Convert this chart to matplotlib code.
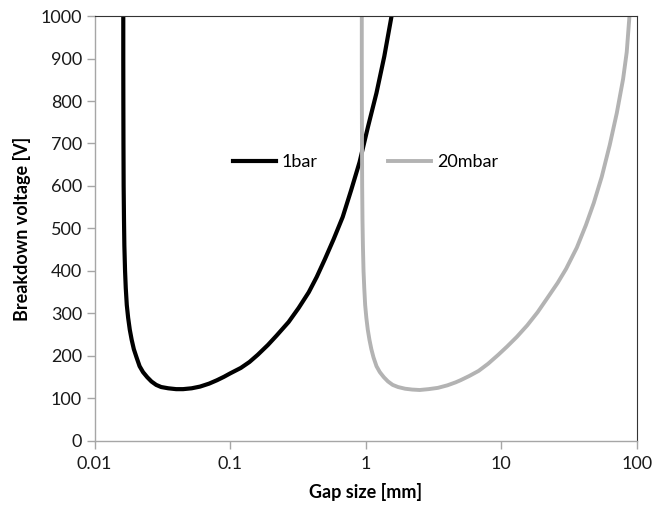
import matplotlib
matplotlib.use("Agg")
import matplotlib.pyplot as plt
from matplotlib.ticker import FixedLocator, FixedFormatter, NullLocator

# values
gap_1bar = [0.0163, 0.0163, 0.01632, 0.01635, 0.0164, 0.0165, 0.0166, 0.0168, 0.0170, 0.0173,
            0.0177, 0.0182, 0.0188, 0.0195, 0.0204, 0.0215, 0.0228, 0.0245, 0.0263, 0.0285,
            0.031, 0.035, 0.040, 0.045, 0.052, 0.060, 0.070, 0.080, 0.090, 0.10,
            0.12, 0.139, 0.16, 0.19, 0.22, 0.27, 0.32, 0.38, 0.435, 0.50,
            0.58, 0.676, 0.78, 0.90, 1.04, 1.2, 1.37, 1.55]
volt_1bar = [1000, 900, 800, 700, 600, 520, 460, 400, 360, 320,
             290, 262, 238, 216, 197, 176, 162, 150, 140, 132,
             127, 124, 122, 122, 124, 128, 135, 143, 151, 159,
             172, 186, 203, 226, 248, 280, 313, 350, 386, 428,
             475, 527, 590, 656, 740, 819, 905, 1000]

gap_20mbar = [0.935, 0.935, 0.936, 0.938, 0.941, 0.946, 0.953, 0.963, 0.975, 0.99,
              1.01, 1.035, 1.065, 1.10, 1.14, 1.2, 1.27, 1.36, 1.46, 1.58,
              1.73, 1.95, 2.2, 2.5, 2.9, 3.4, 4.0, 4.6, 5.0, 5.8,
              6.8, 8.0, 9.5, 11, 13, 15.5, 18.5, 22, 26, 30,
              36, 42, 48, 55, 63, 71, 79, 84, 88]
volt_20mbar = [1000, 900, 800, 700, 600, 520, 460, 400, 360, 320,
               290, 262, 238, 216, 197, 176, 162, 150, 140, 132,
               127, 123, 121, 120, 122, 125, 131, 138, 143, 153,
               165, 182, 203, 222, 245, 272, 303, 338, 372, 405,
               455, 508, 560, 622, 697, 772, 852, 915, 1000]

x_ticks = [0.01, 0.1, 1, 10, 100]
x_labels = ["0.01", "0.1", "1", "10", "100"]
y_ticks = list(range(0, 1001, 100))

plt.rcParams["font.family"] = ["Lato", "DejaVu Sans"]
plt.rcParams["font.size"] = 13

fig = plt.figure(figsize=(6.54, 5.08), dpi=100)
ax = fig.add_axes([0.1445, 0.1319, 0.8295, 0.8366])

ax.plot(gap_1bar, volt_1bar, color="black", lw=3.0, label="1bar")
ax.plot(gap_20mbar, volt_20mbar, color="#b3b3b3", lw=2.8, label="20mbar")

ax.set_xscale("log")
ax.set_xlim(0.01, 100)
ax.set_ylim(0, 1000)
ax.xaxis.set_major_locator(FixedLocator(x_ticks))
ax.xaxis.set_major_formatter(FixedFormatter(x_labels))
ax.xaxis.set_minor_locator(NullLocator())
ax.set_yticks(y_ticks)

for side in ["left", "bottom"]:
    ax.spines[side].set_color("#a6a6a6")
    ax.spines[side].set_linewidth(1.0)
for side in ["top", "right"]:
    ax.spines[side].set_color("#333333")
    ax.spines[side].set_linewidth(0.8)

ax.tick_params(axis="both", direction="out", length=6, width=1.0, color="#a6a6a6",
               labelsize=13, labelcolor="#1a1a1a")
ax.tick_params(axis="x", pad=5)
ax.tick_params(axis="y", pad=3)

ax.set_xlabel("Gap size [mm]", fontweight="bold", fontsize=13, labelpad=8)
ax.set_ylabel("Breakdown voltage [V]", fontweight="bold", fontsize=13, labelpad=7)

ax.legend(loc="center left", bbox_to_anchor=(0.255, 0.656), ncol=2, frameon=False,
          borderpad=0, borderaxespad=0, handlelength=2.4, handletextpad=0.3,
          columnspacing=3.9, fontsize=13)

fig.savefig("out.png", dpi=100)
